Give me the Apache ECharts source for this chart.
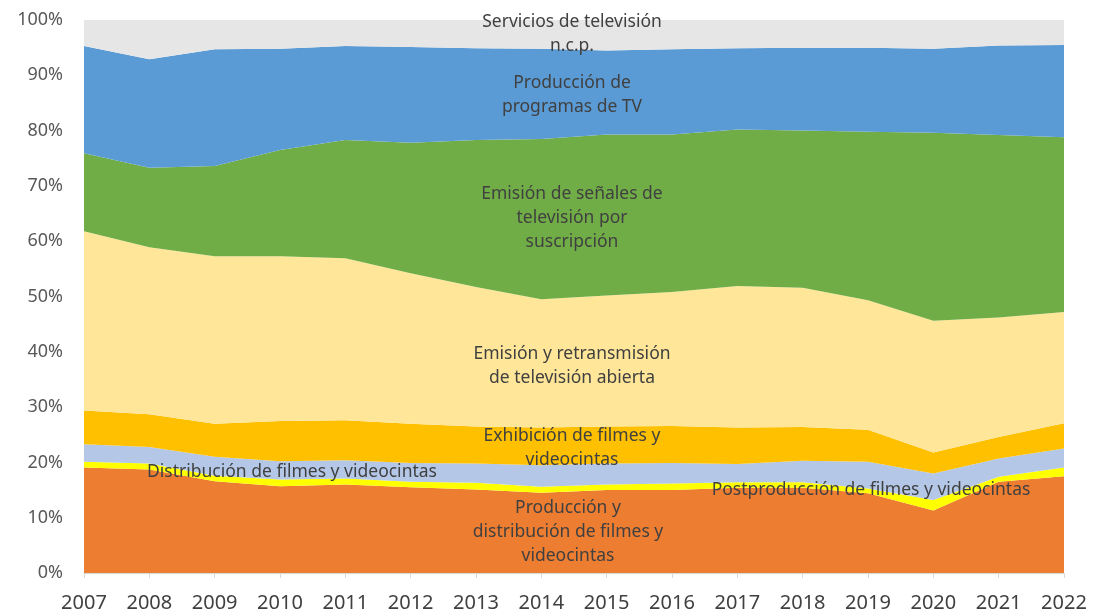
<!DOCTYPE html>
<html>
<head>
<meta charset="utf-8">
<script src="https://cdn.jsdelivr.net/npm/echarts@6/dist/echarts.min.js"></script>
<style>
  html, body { margin: 0; padding: 0; background: #fff; }
  #chart { width: 1095px; height: 614px; }
</style>
</head>
<body>
<div id="chart"></div>
<script>
const years = ['2007', '2008', '2009', '2010', '2011', '2012', '2013', '2014', '2015', '2016', '2017', '2018', '2019', '2020', '2021', '2022'];

// shares in %, bottom to top
const produccionFilmes = [19.1, 18.7, 16.6, 15.7, 16.0, 15.5, 15.1, 14.5, 15.0, 15.0, 15.4, 15.4, 14.4, 11.3, 16.5, 17.5];
const postproduccion = [1.0, 1.1, 1.0, 1.2, 1.1, 1.0, 1.2, 1.1, 1.0, 1.2, 1.0, 1.0, 0.9, 1.9, 0.9, 1.6];
const distribucion = [3.2, 3.0, 3.4, 3.3, 3.3, 3.4, 3.5, 3.9, 3.8, 3.7, 3.3, 3.9, 4.8, 4.8, 3.3, 3.4];
const exhibicion = [6.1, 5.9, 6.0, 7.3, 7.2, 7.1, 6.7, 6.8, 6.7, 6.7, 6.6, 6.1, 5.8, 3.8, 3.9, 4.6];
const tvAbierta = [32.4, 30.2, 30.3, 29.8, 29.3, 27.2, 25.2, 23.2, 23.7, 24.2, 25.6, 25.2, 23.4, 23.8, 21.6, 20.1];
const tvSuscripcion = [14.1, 14.4, 16.3, 19.2, 21.4, 23.6, 26.6, 29.0, 29.1, 28.5, 28.3, 28.4, 30.5, 34.0, 33.0, 31.6];
const programasTV = [19.4, 19.6, 21.1, 18.3, 17.0, 17.3, 16.6, 16.3, 15.2, 15.4, 14.7, 15.0, 15.2, 15.2, 16.2, 16.7];
const serviciosNcp = [4.7, 7.1, 5.3, 5.2, 4.7, 4.9, 5.1, 5.2, 5.5, 5.3, 5.1, 5.0, 5.0, 5.2, 4.6, 4.5];

const yTicks = { min: 0, max: 100, interval: 10 };

const FONT = '"Noto Sans", "Open Sans", sans-serif';

const layers = [
    { name: 'Producción y distribución de filmes y videocintas', data: produccionFilmes, color: '#ED7D31' },
    { name: 'Postproducción de filmes y videocintas', data: postproduccion, color: '#FFFF00' },
    { name: 'Distribución de filmes y videocintas', data: distribucion, color: '#B4C7E7' },
    { name: 'Exhibición de filmes y videocintas', data: exhibicion, color: '#FFC000' },
    { name: 'Emisión y retransmisión de televisión abierta', data: tvAbierta, color: '#FFE699' },
    { name: 'Emisión de señales de televisión por suscripción', data: tvSuscripcion, color: '#70AD47' },
    { name: 'Producción de programas de TV', data: programasTV, color: '#5B9BD5' },
    { name: 'Servicios de televisión n.c.p.', data: serviciosNcp, color: '#E7E6E6' },
];

// in-chart labels, y = centre of the first line
const notes = [
    { x: 572, y: 22, text: 'Servicios de televisión\nn.c.p.' },
    { x: 572, y: 83, text: 'Producción de\nprogramas de TV' },
    { x: 572, y: 194, text: 'Emisión de señales de\ntelevisión por\nsuscripción' },
    { x: 572, y: 354, text: 'Emisión y retransmisión\nde televisión abierta' },
    { x: 572, y: 436, text: 'Exhibición de filmes y\nvideocintas' },
    { x: 292, y: 472, text: 'Distribución de filmes y videocintas' },
    { x: 871, y: 490, text: 'Postproducción de filmes y videocintas' },
    { x: 568, y: 508, text: 'Producción y\ndistribución de filmes y\nvideocintas' },
];
const LINE_H = 24;

const chart = echarts.init(document.getElementById('chart'), null, { renderer: 'canvas' });

chart.setOption({
    animation: false,
    grid: { left: 84, right: 31, top: 20, bottom: 41 },
    xAxis: {
        type: 'category',
        data: years,
        boundaryGap: false,
        axisLine: { lineStyle: { color: '#D9D9D9', width: 1 } },
        axisTick: { show: true, length: 5, lineStyle: { color: '#D9D9D9' } },
        axisLabel: { color: '#404040', fontSize: 20, fontFamily: FONT, margin: 20 },
    },
    yAxis: {
        type: 'value',
        min: yTicks.min,
        max: yTicks.max,
        interval: yTicks.interval,
        axisLine: { show: false },
        axisTick: { show: false },
        splitLine: { show: false },
        axisLabel: { color: '#595959', fontSize: 18, fontFamily: FONT, margin: 21, formatter: '{value}%' },
    },
    series: layers.map(l => ({
        name: l.name,
        type: 'line',
        stack: 'total',
        data: l.data,
        symbol: 'none',
        lineStyle: { width: 0 },
        itemStyle: { color: l.color },
        areaStyle: { color: l.color, opacity: 1 },
    })),
    graphic: notes.map(n => ({
        type: 'text',
        x: n.x,
        y: n.y - LINE_H / 2,
        z: 100,
        style: {
            text: n.text,
            fill: '#404040',
            font: '17.5px ' + FONT,
            align: 'center',
            verticalAlign: 'top',
            lineHeight: LINE_H,
        },
    })),
});
</script>
</body>
</html>
